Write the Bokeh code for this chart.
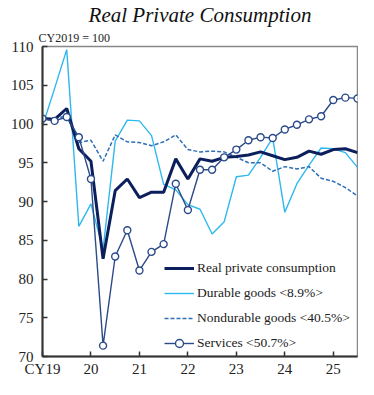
from bokeh.plotting import figure
from bokeh.models import Range1d, FixedTicker, Legend, LegendItem, Title
from bokeh.embed import file_html
from bokeh.resources import INLINE

quarters = list(range(27))  # 2019Q1 .. 2025Q3
tick_pos = [0, 4, 8, 12, 16, 20, 24]
tick_labels = ["CY19", "20", "21", "22", "23", "24", "25"]

real = [100.7, 100.6, 102.0, 96.8, 95.2, 82.6, 91.4, 92.9, 90.5, 91.2, 91.2, 95.5, 92.9,
        95.5, 95.2, 95.7, 95.8, 96.0, 96.4, 95.9, 95.4, 95.7, 96.5, 96.1, 96.7, 96.8, 96.3]
durable = [99.7, 104.6, 109.6, 86.8, 89.7, 83.8, 97.8, 100.5, 100.4, 98.5, 92.2, 91.5, 89.6,
           89.0, 85.8, 87.4, 93.2, 93.4, 95.7, 98.2, 88.6, 92.3, 94.7, 96.9, 96.8, 96.3, 94.4]
nondurable = [100.5, 100.6, 101.1, 97.6, 97.9, 95.2, 98.6, 97.7, 97.6, 97.2, 97.7, 98.6, 96.7,
              96.4, 96.5, 96.4, 95.7, 95.0, 95.0, 93.9, 94.5, 94.2, 94.5, 93.0, 92.6, 91.8, 90.7]
services = [100.7, 100.4, 100.9, 98.3, 92.9, 71.4, 82.9, 86.3, 81.1, 83.5, 84.5, 92.3, 88.9,
            94.1, 94.1, 95.7, 96.7, 97.9, 98.3, 98.2, 99.3, 99.9, 100.6, 101.0, 103.1, 103.4, 103.3]

names = ["Real private consumption", "Durable goods <8.9%>",
         "Nondurable goods <40.5%>", "Services <50.7%>"]

SERIF = "Liberation Serif"

p = figure(width=358, height=379, output_backend="svg", toolbar_location=None,
           x_range=Range1d(0, 26), y_range=Range1d(70, 110),
           min_border_left=42, min_border_right=1, min_border_top=46, min_border_bottom=22)

p.title.text = "Real Private Consumption"
p.title.text_font = SERIF
p.title.text_font_style = "italic"
p.title.text_font_size = "21px"
p.title.align = "center"
p.title.text_color = "#111111"
p.title.standoff = 0

sub = Title(text="CY2019 = 100", align="left", offset=-4, text_font=SERIF,
            text_font_size="12px", text_font_style="normal", text_color="#222222",
            standoff=4)
p.add_layout(sub, "above")

p.grid.visible = False
p.outline_line_color = "#888888"
p.outline_line_width = 1.5

p.xaxis.ticker = FixedTicker(ticks=tick_pos)
p.xaxis.major_label_overrides = {t: l for t, l in zip(tick_pos, tick_labels)}
p.yaxis.ticker = FixedTicker(ticks=[70, 75, 80, 85, 90, 95, 100, 105, 110])
for ax in (p.xaxis, p.yaxis):
    ax.major_tick_in = 5
    ax.major_tick_out = 0
    ax.minor_tick_line_color = None
    ax.axis_line_color = "#333333"
    ax.axis_line_width = 2
    ax.major_tick_line_color = "#333333"
    ax.major_tick_line_width = 1.5
    ax.major_label_text_font = SERIF
    ax.major_label_text_font_size = "15px"
    ax.major_label_text_color = "#222222"
p.yaxis.major_label_standoff = 9
p.xaxis.major_label_standoff = 4

r_dur = p.line(quarters, durable, line_color="#2FB8EE", line_width=1.4)
r_non = p.line(quarters, nondurable, line_color="#2E6FB8", line_width=1.5, line_dash="4 2")
r_real = p.line(quarters, real, line_color="#0B1F5C", line_width=3)
r_srv = p.line(quarters, services, line_color="#2B4A8A", line_width=1.4)
r_srv_c = p.scatter(quarters, services, size=7, marker="circle", fill_color="white",
                    line_color="#2B4A8A", line_width=1.4)

legend = Legend(items=[
    LegendItem(label=names[0], renderers=[r_real]),
    LegendItem(label=names[1], renderers=[r_dur]),
    LegendItem(label=names[2], renderers=[r_non]),
    LegendItem(label=names[3], renderers=[r_srv, r_srv_c]),
], location=(122, 3))
legend.background_fill_alpha = 0
legend.border_line_color = None
legend.padding = 0
legend.margin = 0
legend.spacing = 5
legend.glyph_width = 30
legend.glyph_height = 20
legend.label_height = 20
legend.label_standoff = 3
legend.label_text_font = SERIF
legend.label_text_font_size = "13.5px"
legend.label_text_color = "#222222"
p.add_layout(legend)

open("out.html", "w").write(file_html(p, INLINE))
